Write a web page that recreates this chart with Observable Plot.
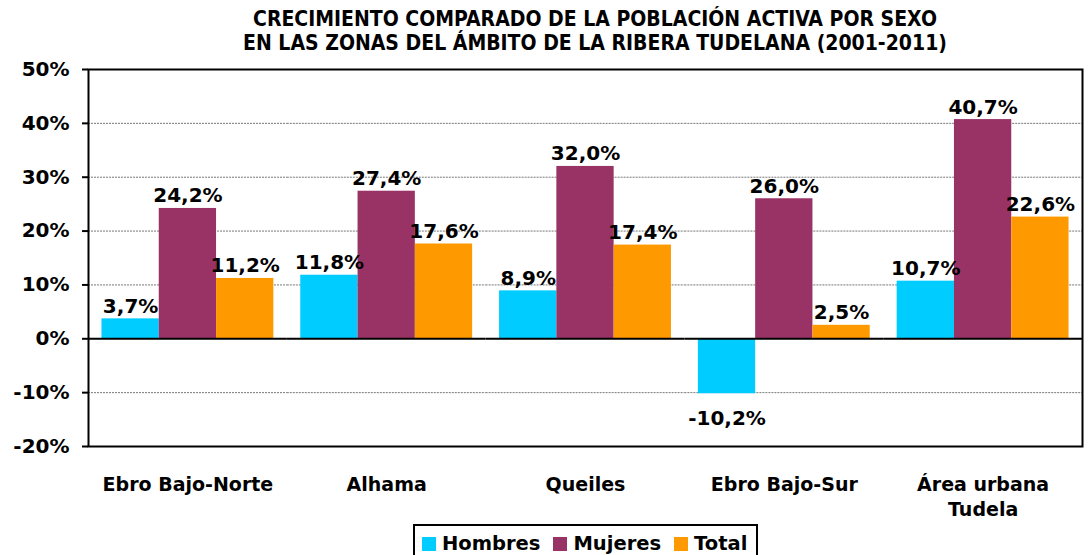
<!DOCTYPE html>
<html>
<head>
<meta charset="utf-8">
<script src="https://cdn.jsdelivr.net/npm/d3@7"></script>
<script src="https://cdn.jsdelivr.net/npm/@observablehq/plot@0.6"></script>
<style>
  body { margin: 0; background: #fff; width: 1088px; height: 555px; overflow: hidden; font-family: "DejaVu Sans", sans-serif; }
  #title { height: 58px; box-sizing: border-box; padding-top: 7px; padding-left: 102px; text-align: center;
           font-family: "DejaVu Sans Condensed", "DejaVu Sans", sans-serif; font-weight: bold; font-size: 21px; line-height: 24px; color: #000; }
  #chart svg { display: block; }
  #legend { position: absolute; left: 413px; top: 524px; height: 38px; box-sizing: border-box; border: 2px solid #000;
            display: flex; align-items: flex-start; padding: 6px 9px 0 7px; gap: 13px; font-weight: bold; font-size: 19.5px; color: #000; }
  .item { display: flex; align-items: center; gap: 6px; }
  .sw { width: 14px; height: 14px; display: inline-block; }
</style>
</head>
<body>
<div id="title">CRECIMIENTO COMPARADO DE LA POBLACIÓN ACTIVA POR SEXO<br>EN LAS ZONAS DEL ÁMBITO DE LA RIBERA TUDELANA (2001-2011)</div>
<div id="chart"></div>
<div id="legend"></div>
<script>
const zonas = ["Ebro Bajo-Norte", "Alhama", "Queiles", "Ebro Bajo-Sur", "Área urbana\nTudela"];
const series = ["Hombres", "Mujeres", "Total"];
const colores = ["#00CCFF", "#993366", "#FF9900"];
const hombres = [3.7, 11.8, 8.9, -10.2, 10.7];
const mujeres = [24.2, 27.4, 32.0, 26.0, 40.7];
const total = [11.2, 17.6, 17.4, 2.5, 22.6];
const yTicks = [-20, -10, 0, 10, 20, 30, 40, 50];
const gridTicks = [-10, 10, 20, 30, 40];

const valores = [hombres, mujeres, total];
const data = [];
zonas.forEach((z, i) => series.forEach((s, j) => data.push({zona: z, serie: s, valor: valores[j][i]})));

const fmt = v => v.toFixed(1).replace(".", ",") + "%";

const plot = Plot.plot({
  width: 1088,
  height: 464,
  marginTop: 11,
  marginBottom: 76,
  marginLeft: 88,
  marginRight: 6,
  style: {fontFamily: "DejaVu Sans", color: "#000", background: "#fff"},
  fx: {domain: zonas, padding: 0, round: false, label: null},
  x: {domain: series, paddingInner: 0, paddingOuter: 0.235, round: false, axis: null},
  y: {domain: [-20, 50], label: null},
  color: {domain: series, range: colores},
  marks: [
    Plot.ruleY(gridTicks, {stroke: "#777", strokeDasharray: "2,1", strokeWidth: 1}),
    Plot.barY(data, {fx: "zona", x: "serie", y: "valor", fill: "serie"}),
    Plot.ruleY([0], {stroke: "#000", strokeWidth: 2}),
    Plot.text(data.filter(d => d.valor >= 0), {fx: "zona", x: "serie", y: "valor", text: d => fmt(d.valor),
      lineAnchor: "bottom", dy: -6, fontSize: 20, fontWeight: "bold", fill: "#000"}),
    Plot.text(data.filter(d => d.valor < 0), {fx: "zona", x: "serie", y: "valor", text: d => fmt(d.valor),
      lineAnchor: "top", dy: 17, fontSize: 20, fontWeight: "bold", fill: "#000"}),
    Plot.axisY({ticks: yTicks, tickFormat: d => d + "%", tickSize: 6, tickPadding: 13, strokeWidth: 2,
      fontSize: 20, fontWeight: "bold", label: null}),
    Plot.axisFx({anchor: "bottom", tickSize: 0, tickPadding: 27, fontSize: 19, fontWeight: "bold", lineHeight: 1.32, label: null}),
    Plot.frame({facet: "super", stroke: "#000", strokeWidth: 2,
      render(index, scales, values, dims, context, next) {
        const g = next(index, scales, values, dims, context);
        const fx = scales.fx, y = scales.y;
        const y0 = y(0);
        const sel = d3.select(g).append("g").attr("stroke", "#000").attr("stroke-width", 2);
        zonas.forEach((z, i) => {
          if (i === 0) return;
          const xx = fx(z);
          sel.append("line").attr("x1", xx).attr("x2", xx).attr("y1", y0).attr("y2", y0 + 6);
        });
        return g;
      }})
  ]
});
document.getElementById("chart").appendChild(plot);

const legend = document.getElementById("legend");
series.forEach((s, i) => {
  const it = document.createElement("div");
  it.className = "item";
  it.innerHTML = `<span class="sw" style="background:${colores[i]}"></span><span>${s}</span>`;
  legend.appendChild(it);
});
</script>
</body>
</html>
